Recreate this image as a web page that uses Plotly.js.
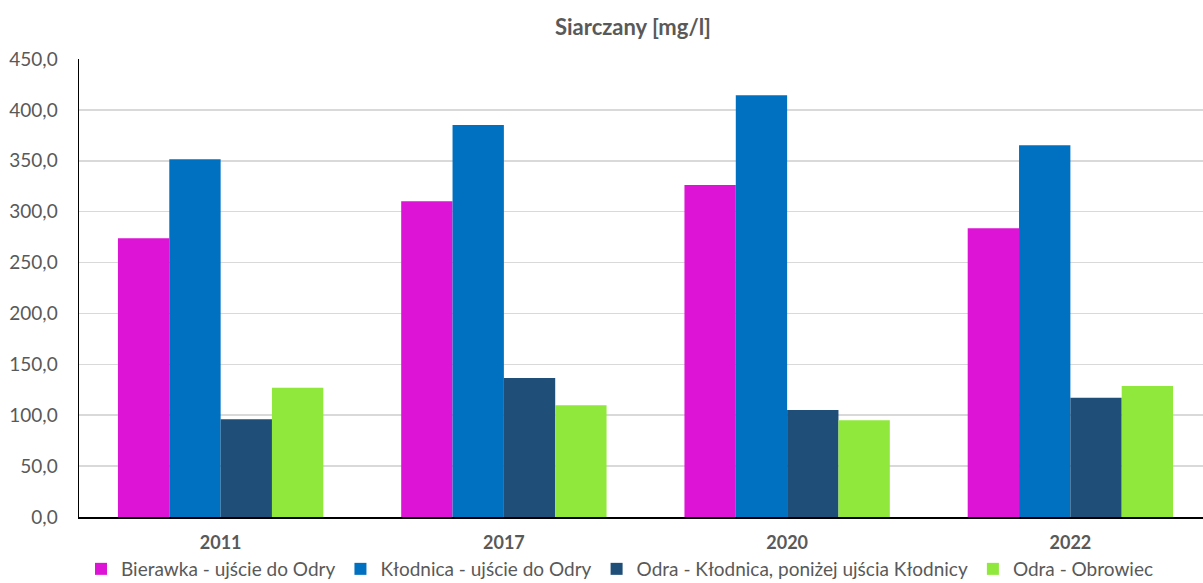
<!DOCTYPE html>
<html>
<head>
<meta charset="utf-8">
<script src="https://cdn.plot.ly/plotly-3.0.1.min.js"></script>
<style>
  html, body { margin: 0; padding: 0; overflow: hidden; background: #fff; }
  #chart { width: 1212px; height: 583px; }
</style>
</head>
<body>
<div id="chart"></div>
<script>
var years = ['2011', '2017', '2020', '2022'];

var bierawka = [274.0, 310.2, 326.2, 283.6];
var klodnica = [351.4, 385.1, 414.3, 365.2];
var odra_klodnica = [96.0, 136.6, 105.1, 117.2];
var odra_obrowiec = [127.0, 109.7, 95.0, 128.7];

var names = [
  'Bierawka - ujście do Odry',
  'Kłodnica - ujście do Odry',
  'Odra - Kłodnica, poniżej ujścia Kłodnicy',
  'Odra - Obrowiec'
];
var colors = ['#dd14d5', '#0070c0', '#1f4e79', '#8fe83b'];

var font = 'Lato, "Open Sans", sans-serif';

function bars(y, i) {
  return {
    x: years,
    y: y,
    type: 'bar',
    name: names[i],
    marker: { color: colors[i] },
    hoverinfo: 'y+name'
  };
}

var data = [
  bars(bierawka, 0),
  bars(klodnica, 1),
  bars(odra_klodnica, 2),
  bars(odra_obrowiec, 3)
];

var layout = {
  width: 1212,
  height: 583,
  margin: { l: 79, r: 0, t: 59, b: 66 },
  paper_bgcolor: '#ffffff',
  plot_bgcolor: '#ffffff',
  separators: ', ',
  font: { family: font, size: 19, color: '#595959' },
  title: {
    text: '<b>Siarczany [mg/l]</b>',
    font: { family: font, size: 22, color: '#595959' },
    x: 633 / 1212,
    xref: 'container',
    xanchor: 'center',
    y: 1 - 27 / 583,
    yanchor: 'middle'
  },
  barmode: 'group',
  bargap: 0.275,
  bargroupgap: 0,
  xaxis: {
    type: 'category',
    showline: true,
    linecolor: '#000000',
    linewidth: 1.5,
    ticks: '',
    tickfont: { family: font, size: 18, color: '#595959', weight: 'bold' },
    ticklabelstandoff: 9
  },
  yaxis: {
    range: [0, 450],
    dtick: 50,
    tickformat: '.1f',
    showline: true,
    linecolor: '#000000',
    linewidth: 1.5,
    gridcolor: '#d9d9d9',
    gridwidth: 1.5,
    zeroline: false,
    ticks: '',
    tickfont: { family: font, size: 19, color: '#595959' },
    ticklabelstandoff: 16
  },
  showlegend: true,
  legend: {
    orientation: 'h',
    x: (620 - 79) / 1133,
    xanchor: 'center',
    yref: 'container',
    y: 14 / 583,
    yanchor: 'middle',
    bgcolor: 'rgba(0,0,0,0)',
    font: { family: font, size: 19, color: '#595959' },
    itemwidth: 30,
    tracegroupgap: 0
  }
};

Plotly.newPlot('chart', data, layout, { displayModeBar: false, staticPlot: true });
</script>
</body>
</html>
